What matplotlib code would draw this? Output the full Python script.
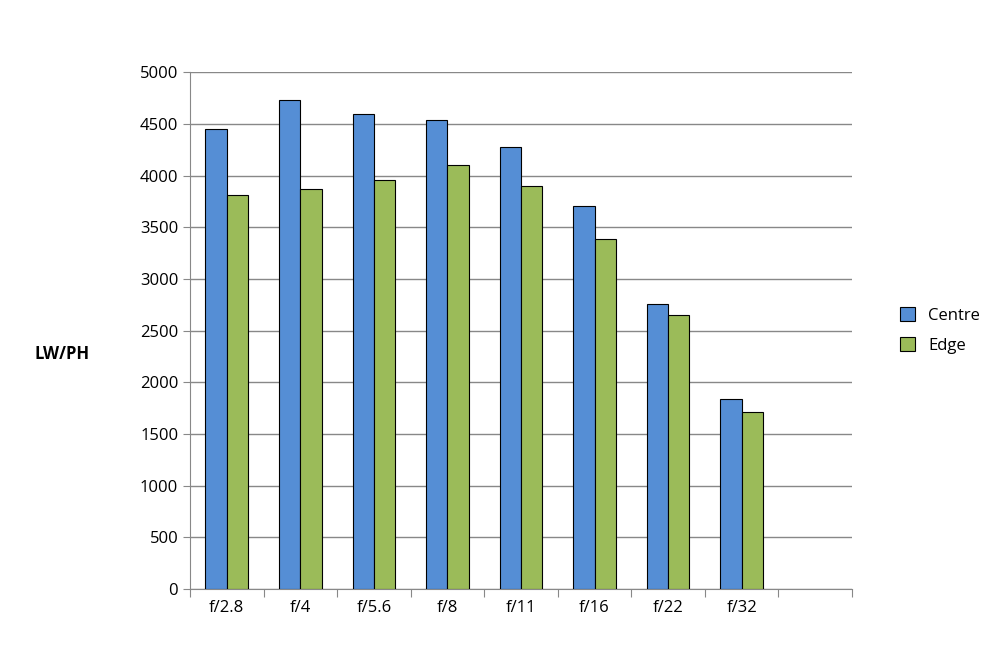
import matplotlib
matplotlib.use("Agg")
import matplotlib.pyplot as plt
import numpy as np

categories = ["f/2.8", "f/4", "f/5.6", "f/8", "f/11", "f/16", "f/22", "f/32"]
centre = [4450, 4730, 4600, 4540, 4280, 3710, 2760, 1840]
edge = [3810, 3870, 3960, 4100, 3900, 3390, 2650, 1710]

plt.rcParams['font.family'] = ['Open Sans', 'DejaVu Sans']
fig = plt.figure(figsize=(10, 6.62), dpi=100)
ax = fig.add_axes([0.19, 0.110, 0.662, 0.781])

n_slots = 9
x = np.arange(len(categories)) + 0.5
w = 0.29
ax.bar(x - w/2, centre, w, color="#558ed5", edgecolor="black", linewidth=0.8, label="Centre", zorder=3)
ax.bar(x + w/2, edge, w, color="#9bbb59", edgecolor="black", linewidth=0.8, label="Edge", zorder=3)

ax.set_xlim(0, n_slots)
ax.set_ylim(0, 5000)
ax.set_yticks(range(0, 5001, 500))
ax.yaxis.grid(True, color="#888888", linewidth=1, zorder=0)
ax.set_xticks(range(0, n_slots + 1))
ax.set_xticklabels([])
ax.set_xticks(x, minor=True)
ax.set_xticklabels(categories, minor=True)
ax.tick_params(axis='x', which='minor', length=0, labelsize=12, pad=8)
ax.tick_params(axis='x', which='major', length=6, color="#888888")
ax.tick_params(axis='y', length=5, color="#888888", labelsize=12)
for s in ["top", "right"]:
    ax.spines[s].set_visible(False)
for s in ["left", "bottom"]:
    ax.spines[s].set_color("#888888")

fig.text(0.062, 0.465, "LW/PH", fontsize=12, fontweight="bold", ha="center", va="center")
ax.legend(loc="center left", bbox_to_anchor=(1.05, 0.5), frameon=False, fontsize=12,
          handlelength=0.9, handleheight=0.9, labelspacing=0.8)
fig.savefig("out.png", dpi=100, facecolor="white")
